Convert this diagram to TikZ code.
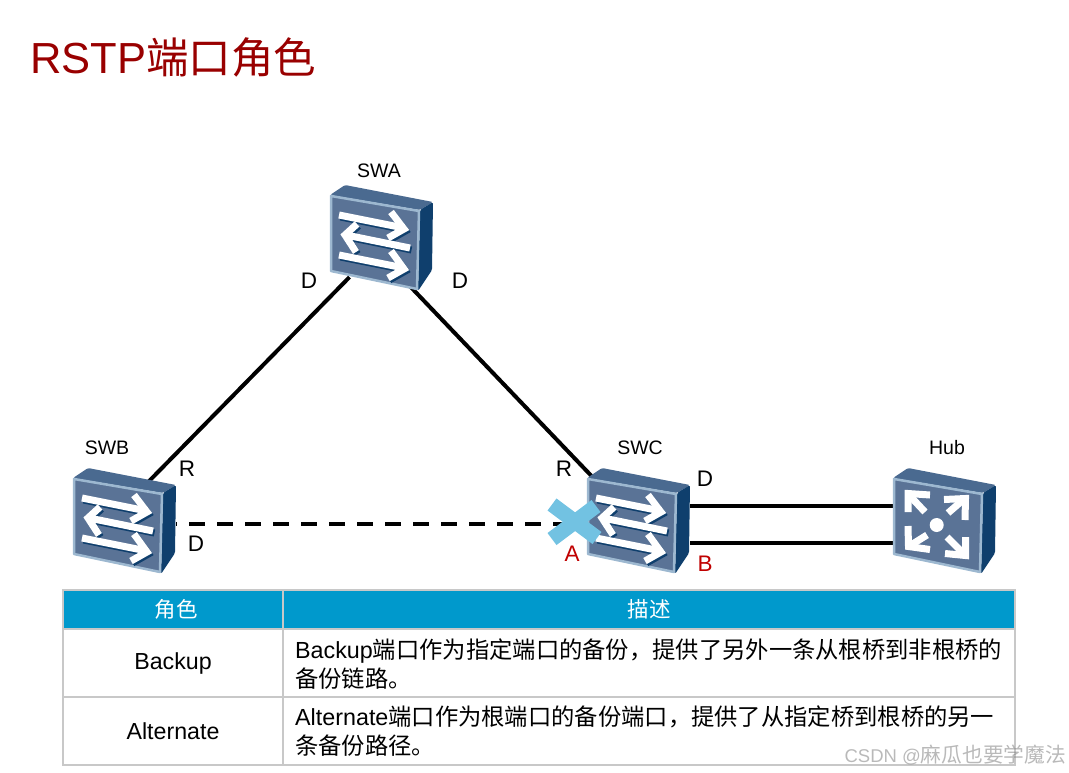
\documentclass[tikz,border=0pt]{standalone}
\usepackage{fontspec}
\setmainfont{Liberation Sans}
\newfontfamily\cjk{Noto Sans CJK SC}
\newcommand{\zh}[1]{{\cjk #1}}
\definecolor{titlered}{HTML}{990000}
\definecolor{portred}{HTML}{C00000}
\definecolor{headblue}{HTML}{0099CC}
\definecolor{gridgray}{HTML}{C8C8C8}
\definecolor{devtop}{HTML}{4A6A90}
\definecolor{devside}{HTML}{0F3F6D}
\definecolor{devrim}{HTML}{9DB8D0}
\definecolor{devface}{HTML}{5A7396}
\definecolor{crossblue}{HTML}{72C2E2}
\tikzset{
  devbox/.style={minimum width=103pt, minimum height=106pt, inner sep=0pt, anchor=north west},
  devlab/.style={font=\fontsize{19.5}{22}\selectfont, inner sep=0pt},
  portlab/.style={font=\fontsize{22.5}{24}\selectfont, inner sep=0pt},
  link/.style={black, line width=4pt},
  slant/.style={link, shorten <=-20pt, shorten >=-20pt},
  cellbox/.style={draw=gridgray, line width=2pt, inner sep=0pt, anchor=north west},
  headcell/.style={cellbox, fill=headblue, text=white, font=\fontsize{21.5}{26}\selectfont},
  textcell/.style={cellbox, font=\fontsize{23.2}{29}\selectfont},
  devarrow/.style={white, line width=7pt, miter limit=10},
  pics/devshell/.style={code={
    \fill[devtop, rounded corners=1.5pt] (0,10) -- (15,0) -- (103,17) -- (90,25) -- cycle;
    \fill[devside, rounded corners=1.5pt] (90,25) -- (103,17) -- (102,85) -- (88,106) -- cycle;
    \fill[devface, draw=devrim, line width=2.5pt, line join=round] (1,11) -- (89,26) -- (87,104) -- (1,86) -- cycle;
  }},
  pics/switchdev/.style={code={
    \pic {devshell};
    \foreach \dx/\dy/\col in {1.5/2/devside, 0/0/white} {
      \begin{scope}[shift={(\dx,\dy)}]
        \draw[devarrow, draw=\col] (9,30) -- (74,43);
        \draw[devarrow, draw=\col] (61,27) -- (74,44) -- (58,53);
        \draw[devarrow, draw=\col] (80,63) -- (16,50);
        \draw[devarrow, draw=\col] (27,39) -- (15,50) -- (26,67);
        \draw[devarrow, draw=\col] (9,70) -- (74,83);
        \draw[devarrow, draw=\col] (61,66) -- (74,84) -- (58,93);
      \end{scope}
    }
  }},
  pics/hubdev/.style={code={
    \pic {devshell};
    \fill[white] (43.7,57) circle (7);
    \draw[devarrow] (32,44) -- (17,28);
    \draw[devarrow] (37,27) -- (15,25.5) -- (15,44);
    \draw[devarrow] (55,45) -- (70,32);
    \draw[devarrow] (51,31.5) -- (72.5,30.5) -- (72,52);
    \draw[devarrow] (34,67) -- (18,77);
    \draw[devarrow] (15,58) -- (15.5,78.5) -- (37,81.5);
    \draw[devarrow] (54,69) -- (70,85);
    \draw[devarrow] (72.5,69) -- (72.5,87.5) -- (52,85.5);
  }}
}
\begin{document}
\begin{tikzpicture}[x=1pt,y=-1pt]
\useasboundingbox (0,0) rectangle (1069,772);

% Title
\node[anchor=west, inner sep=0pt, text=titlered, font=\fontsize{43.5}{48}\selectfont] (title) at (30,57) {RSTP\zh{\fontsize{42.5}{48}\selectfont 端口角色}};

% Devices
\node[devbox] (swa) at (330,185) {};
\node[devbox] (swb) at (73,468) {};
\node[devbox] (swc) at (587,468) {};
\node[devbox] (hub) at (893,468) {};

% Links
\draw[slant] (swa.229) -- (swb.55);
\draw[slant] (swa.302) -- (swc.136);
\draw[link, dash pattern=on 16pt off 12pt, dash phase=15pt] ([yshift=-2.5pt]swb.east) -- ([yshift=-2.5pt]swc.west);
\draw[link] ([yshift=15.5pt]swc.east) -- ([yshift=15.5pt]hub.west);
\draw[link] ([yshift=-21.5pt]swc.east) -- ([yshift=-21.5pt]hub.west);

% Device bodies
\pic at (swa.north west) {switchdev};
\pic at (swb.north west) {switchdev};
\pic at (swc.north west) {switchdev};
\pic at (hub.north west) {hubdev};

% Blocked port mark
\draw[crossblue, line width=15pt] (552,504.5) -- (597,538);
\draw[crossblue, line width=15pt] (596,506) -- (552,539);

% Device labels
\node[devlab] (swalab) at (379,171) {SWA};
\node[devlab] (swblab) at (107,448) {SWB};
\node[devlab] (swclab) at (640,448) {SWC};
\node[devlab] (hublab) at (947,448) {Hub};

% Port labels
\node[portlab] (pa1) at (309,281) {D};
\node[portlab] (pa2) at (460,281) {D};
\node[portlab] (pb1) at (187,469) {R};
\node[portlab] (pb2) at (196,544) {D};
\node[portlab] (pc1) at (564,469) {R};
\node[portlab] (pc2) at (705,479) {D};
\node[portlab, text=portred] (pc3) at (705,564) {B};
\node[portlab, text=portred] (pc4) at (572,554) {A};

% Table
\node[headcell, minimum width=220pt, minimum height=39pt] (hdrole) at (62,589) {\hspace*{6pt}\raisebox{-1.5pt}{\zh{角色}}};
\node[headcell, minimum width=732pt, minimum height=39pt] (hddesc) at (282,589) {\raisebox{-1.5pt}{\zh{描述}}};
\node[textcell, minimum width=220pt, minimum height=68pt] (rowa) at (62,628) {\raisebox{-2pt}{Backup}};
\node[textcell, minimum width=732pt, minimum height=68pt] (rowad) at (282,628) {};
\node[textcell, minimum width=220pt, minimum height=68pt] (rowb) at (62,696) {Alternate};
\node[textcell, minimum width=732pt, minimum height=68pt] (rowbd) at (282,696) {};
\node[anchor=west, align=left, inner sep=0pt, font=\fontsize{23.3}{29}\selectfont] (txta) at ([xshift=13pt,yshift=-1.5pt]rowad.west) {Backup\zh{端口作为指定端口的备份，提供了另外一条从根桥到非根桥的}\\\zh{备份链路。}};
\node[anchor=west, align=left, inner sep=0pt, font=\fontsize{23.3}{29}\selectfont] (txtb) at ([xshift=13pt,yshift=-0.5pt]rowbd.west) {Alternate\zh{端口作为根端口的备份端口，提供了从指定桥到根桥的另一}\\\zh{条备份路径。}};

% Watermark
\node[anchor=east, inner sep=0pt, text=gray, opacity=0.55, font=\fontsize{18.5}{22}\selectfont] (mark) at (1066,755) {CSDN @\zh{\fontsize{20.7}{22}\selectfont 麻瓜也要学魔法}};
\end{tikzpicture}
\end{document}
